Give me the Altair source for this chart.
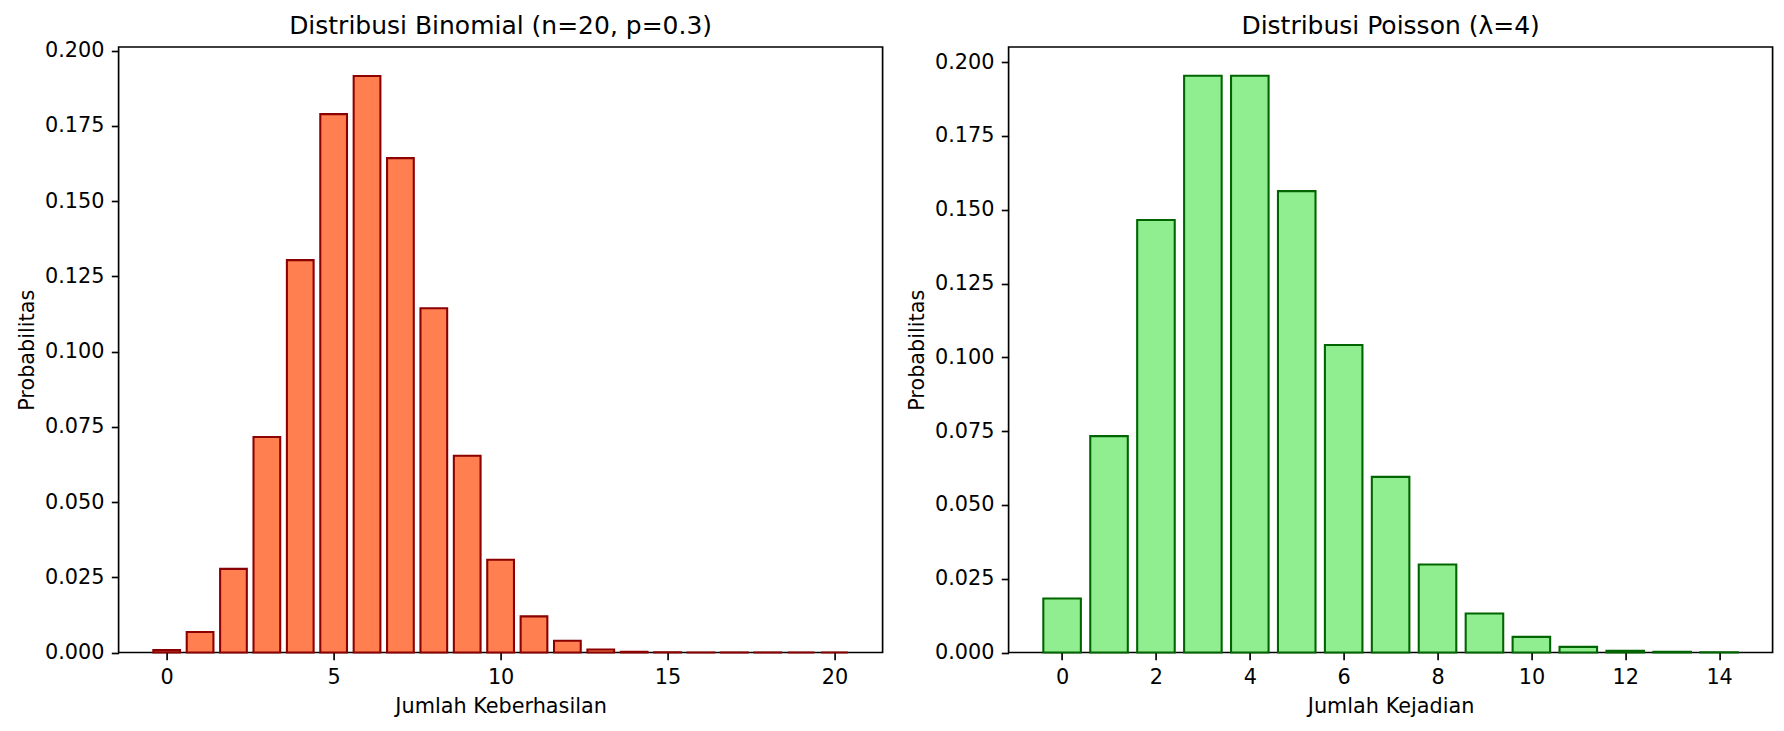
import altair as alt
import pandas as pd

# Binomial distribution (n=20, p=0.3) values
binom_k = list(range(21))
binom_p = [0.0008, 0.0068, 0.0278, 0.0716, 0.1304, 0.1789, 0.1916, 0.1643,
           0.1144, 0.0654, 0.0308, 0.0120, 0.0039, 0.0010, 0.0002, 0.00004,
           0.000005, 0.0000005, 0.00000004, 0.000000002, 0.0]

# Poisson distribution (lambda=4)
pois_k = list(range(15))
pois_p = [0.0183, 0.0733, 0.1465, 0.1954, 0.1954, 0.1563, 0.1042, 0.0595,
          0.0298, 0.0132, 0.0053, 0.0019, 0.0006, 0.0002, 0.00006]

y_ticks = [0.0, 0.025, 0.05, 0.075, 0.1, 0.125, 0.15, 0.175, 0.2]
binom_xticks = [0, 5, 10, 15, 20]
pois_xticks = [0, 2, 4, 6, 8, 10, 12, 14]

binom_df = pd.DataFrame({"k": binom_k, "p": binom_p})
pois_df = pd.DataFrame({"k": pois_k, "p": pois_p})

W = 764
H = 605.5


def panel(df, title, title_offset, xtitle, xdomain, xticks, ydomain, fill, stroke):
    return (
        alt.Chart(df)
        .transform_calculate(x0="datum.k - 0.4", x1="datum.k + 0.4", base="0")
        .mark_bar(fill=fill, stroke=stroke, strokeWidth=2.08)
        .encode(
            x=alt.X(
                "x0:Q",
                scale=alt.Scale(domain=xdomain, nice=False, zero=False),
                axis=alt.Axis(values=xticks, format="d", title=xtitle,
                              titleY=59.8, titleBaseline="alphabetic",
                              labelPadding=8),
            ),
            x2="x1:Q",
            y=alt.Y(
                "p:Q",
                scale=alt.Scale(domain=ydomain, nice=False, zero=True),
                axis=alt.Axis(values=y_ticks, format=".3f", title="Probabilitas",
                              titleX=-85, titleBaseline="alphabetic",
                              labelPadding=7.3),
            ),
            y2="base:Q",
        )
        .properties(width=W, height=H,
                    title=alt.TitleParams(title, offset=title_offset))
    )


left = panel(binom_df, "Distribusi Binomial (n=20, p=0.3)", 1.0, "Jumlah Keberhasilan",
             [-1.44, 21.44], binom_xticks, [0, 0.20122], "#FF7F50", "#8B0000")
right = panel(pois_df, "Distribusi Poisson (λ=4)", 7.75, "Jumlah Kejadian",
              [-1.14, 15.14], pois_xticks, [0, 0.20514], "#90EE90", "#006400")

chart = (
    alt.hconcat(left, right, spacing=22)
    .properties(padding={"left": 7.6, "top": 4, "right": 0, "bottom": 0})
    .configure(font="DejaVu Sans", background="white")
    .configure_view(stroke="black", strokeWidth=1.67)
    .configure_axis(
        domain=False, grid=False,
        tickColor="black", tickSize=7.3, tickWidth=1.67,
        labelFont="DejaVu Sans", labelFontSize=20.8, labelColor="black",
        titleFont="DejaVu Sans", titleFontSize=20.8, titleFontWeight="normal",
        titleColor="black",
    )
    .configure_title(
        font="DejaVu Sans", fontSize=25, fontWeight="normal", color="black",
        frame="group", baseline="bottom", anchor="middle",
    )
)

chart.save("out.html", embed_options={"renderer": "svg", "actions": False})
